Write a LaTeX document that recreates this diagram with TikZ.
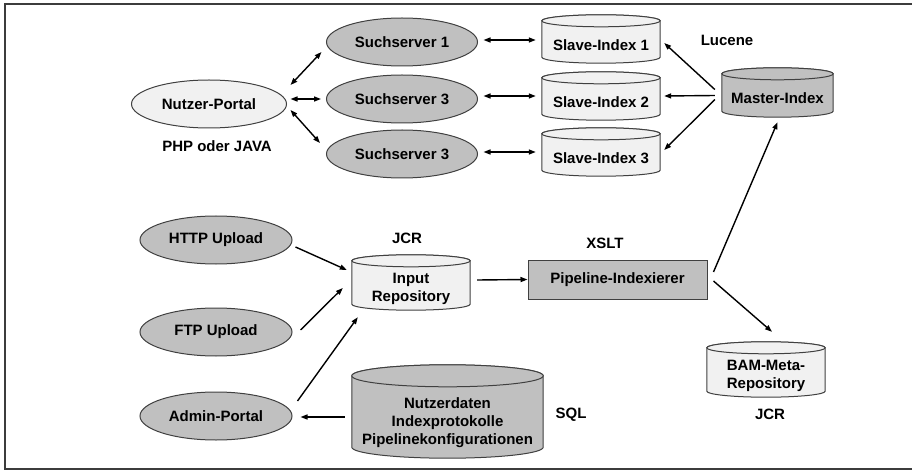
\documentclass[tikz,border=0pt]{standalone}
\usepackage{fontspec}
\setmainfont{Liberation Sans}
\usetikzlibrary{shapes.geometric,arrows.meta,backgrounds,calc}
\definecolor{edgec}{HTML}{404040}
\definecolor{lightf}{HTML}{F1F1F1}
\definecolor{grayf}{HTML}{C0C0C0}
\definecolor{framec}{HTML}{3C3C3C}
\newcommand{\cylshape}[3]{%
 \begin{pgfonlayer}{background}
 \path[draw=edgec, fill=#2, line width=1pt] let \p1=(#1.south west), \p2=(#1.north east), \n1={(\x2-\x1)/2}, \n2={#3} in
   (\x1,\y2+\n2) -- (\x1,\y1+\n2) arc[start angle=180,end angle=360,x radius=\n1,y radius=\n2] -- (\x2,\y2+\n2) arc[start angle=0,end angle=180,x radius=\n1,y radius=\n2] -- cycle;
 \path[draw=edgec, fill=#2, line width=1pt] let \p1=(#1.south west), \p2=(#1.north east), \n1={(\x2-\x1)/2}, \n2={#3} in
   ({(\x1+\x2)/2},\y2+\n2) ellipse[x radius=\n1,y radius=\n2];
 \end{pgfonlayer}}
\tikzset{
  txt/.style={font=\fontsize{15pt}{18pt}\selectfont\bfseries, align=center, inner sep=0pt},
  ell/.style={txt, ellipse, draw=edgec, line width=1pt, minimum width=#1, minimum height=48pt},
  cylbox/.style={txt, minimum width=#1},
  arr/.style={line width=1.4pt, -{Triangle[length=7pt,width=5pt]}},
  darr/.style={line width=1.4pt, {Triangle[length=7pt,width=5pt]}-{Triangle[length=7pt,width=5pt]}},
}
\begin{document}
\begin{tikzpicture}[x=1pt,y=-1pt]
\useasboundingbox (0,0) rectangle (912,470);
\draw[line width=2pt, framec] (912,4) -- (5,4) -- (5,469) -- (912,469);

% ellipses
\node[ell=155pt, fill=lightf] (np) at (209,104) {Nutzer-Portal};
\node[ell=151pt, fill=grayf] (s1) at (402,42) {Suchserver 1};
\node[ell=151pt, fill=grayf] (s2) at (402,99) {Suchserver 3};
\node[ell=151pt, fill=grayf] (s3) at (402,154) {Suchserver 3};
\node[ell=152pt, fill=grayf] (http) at (216,240) {HTTP Upload};
\node[ell=152pt, fill=grayf] (ftp) at (216,332) {FTP Upload};
\node[ell=152pt, fill=grayf] (admin) at (216,416) {Admin-Portal};

% cylinders
\node[cylbox=118pt, minimum height=36pt] (si1) at (601,45) {Slave-Index 1};
\cylshape{si1}{lightf}{6pt}
\node[cylbox=118pt, minimum height=36pt] (si2) at (601,102) {Slave-Index 2};
\cylshape{si2}{lightf}{6pt}
\node[cylbox=118pt, minimum height=36pt] (si3) at (601,158) {Slave-Index 3};
\cylshape{si3}{lightf}{6pt}
\node[cylbox=111pt, minimum height=37pt] (master) at (777.5,98.5) {Master-Index};
\cylshape{master}{grayf}{6pt}
\node[cylbox=118pt, minimum height=43pt] (input) at (411,288.5) {Input\\Repository};
\cylshape{input}{lightf}{6pt}
\node[cylbox=118pt, minimum height=43pt] (bam) at (766,375.5) {BAM-Meta-\\Repository};
\cylshape{bam}{lightf}{6pt}
\node[cylbox=191pt, minimum height=71pt] (big) at (447.5,422.5) {Nutzerdaten\\Indexprotokolle\\Pipelinekonfigurationen};
\cylshape{big}{grayf}{11pt}

% rectangle
\node[txt, draw=edgec, line width=1pt, fill=grayf, minimum width=179pt, minimum height=39pt] (pipe) at (617.5,279.5) {Pipeline-Indexierer};

% labels
\node[txt] (lphp) at (217,146) {PHP oder JAVA};
\node[txt] (lluc) at (727,40) {Lucene};
\node[txt] (ljcr1) at (407,238) {JCR};
\node[txt] (lxslt) at (605,243) {XSLT};
\node[txt] (lsql) at (571,415) {SQL};
\node[txt] (ljcr2) at (770,414) {JCR};

% connectors
\draw[darr] ([shift={(3.5,-19)}]np.east) -- ([shift={(-4.5,10)}]s1.west);
\draw[darr] ([shift={(3.5,-5)}]np.east) -- ([shift={(-5,0)}]s2.west);
\draw[darr] ([shift={(3.5,6)}]np.east) -- ([shift={(-6,-11)}]s3.west);
\draw[darr] ([shift={(5.5,-2)}]s1.east) -- ([shift={(-6,-5)}]si1.west);
\draw[darr] ([shift={(5.5,-3)}]s2.east) -- ([shift={(-6,-6)}]si2.west);
\draw[darr] ([shift={(5.5,-2)}]s3.east) -- ([shift={(-6,-6)}]si3.west);
\draw[arr] ([shift={(-7,-9)}]master.west) -- ([shift={(4,-2)}]si1.east);
\draw[arr] ([shift={(-7,-3)}]master.west) -- ([shift={(4,-6)}]si2.east);
\draw[arr] ([shift={(-7,1)}]master.west) -- ([shift={(4,-8)}]si3.east);
\draw[arr] ([shift={(6,-7.5)}]pipe.east) -- ([shift={(0,5)}]master.south);
\draw[arr] ([shift={(6,1.5)}]pipe.east) -- ([shift={(6,-22)}]bam.north);
\draw[arr] ([shift={(7,-8.5)}]input.east) -- (pipe.west);
\draw[arr] ([shift={(3,7)}]http.east) -- ([shift={(-5,-18.5)}]input.west);
\draw[arr] ([shift={(8,-2)}]ftp.east) -- ([shift={(-9,-0.5)}]input.west);
\draw[arr] ([shift={(5,-15)}]admin.east) -- ([shift={(6,7)}]input.south west);
\draw[arr] ([shift={(-7,-5.5)}]big.west) -- ([shift={(8,1)}]admin.east);
\end{tikzpicture}
\end{document}
